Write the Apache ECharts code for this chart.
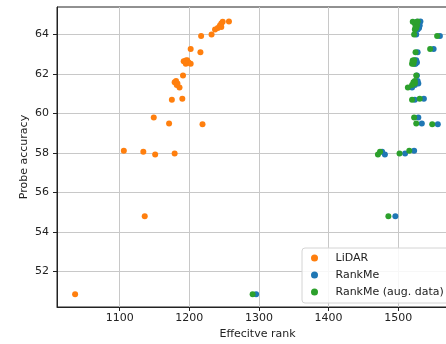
<!DOCTYPE html>
<html>
<head>
<meta charset="utf-8">
<script src="https://cdn.jsdelivr.net/npm/echarts@6/dist/echarts.min.js"></script>
<style>
  html, body { margin: 0; padding: 0; background: #fff; }
  #chart { width: 446px; height: 344px; }
</style>
</head>
<body>
<div id="chart"></div>
<script>
// values: [effective rank, probe accuracy]
var lidar = [
    [1036, 50.85], [1136, 54.8], [1106, 58.12], [1134, 58.07], [1151, 57.93], [1179, 57.98],
    [1149, 59.8], [1171, 59.5], [1219, 59.46], [1175, 60.7], [1190, 60.75], [1191, 61.92],
    [1179, 61.58], [1181, 61.65], [1183, 61.52], [1182, 61.44], [1186, 61.32], [1192, 62.64],
    [1195, 62.52], [1197, 62.7], [1199, 62.58], [1202, 62.52], [1195, 62.68], [1202, 63.27],
    [1216, 63.1], [1217, 63.92], [1232, 64.0], [1237, 64.25], [1241, 64.33], [1244, 64.45],
    [1246, 64.55], [1248, 64.64], [1246, 64.38], [1257, 64.65]
];
var rankme = [
    [1296, 50.85], [1496, 54.8], [1523, 58.12], [1477, 58.07], [1481, 57.93], [1510, 57.98],
    [1529, 59.8], [1534, 59.5], [1557, 59.46], [1524, 60.7], [1537, 60.75], [1527, 61.92],
    [1526, 61.58], [1528, 61.65], [1529, 61.52], [1524, 61.44], [1520, 61.32], [1525, 62.64],
    [1524, 62.52], [1526, 62.7], [1527, 62.58], [1525, 62.52], [1524, 62.68], [1551, 63.27],
    [1528, 63.1], [1560, 63.92], [1526, 64.0], [1528, 64.25], [1530, 64.33], [1531, 64.45],
    [1529, 64.55], [1527, 64.64], [1530, 64.38], [1532, 64.65]
];
var rankmeAug = [
    [1291, 50.85], [1486, 54.8], [1516, 58.12], [1474, 58.07], [1471, 57.93], [1502, 57.98],
    [1523, 59.8], [1526, 59.5], [1549, 59.46], [1520, 60.7], [1531, 60.75], [1526, 61.92],
    [1522, 61.58], [1524, 61.65], [1524, 61.52], [1520, 61.44], [1514, 61.32], [1521, 62.64],
    [1520, 62.52], [1523, 62.7], [1522, 62.58], [1522, 62.52], [1521, 62.68], [1546, 63.27],
    [1525, 63.1], [1556, 63.92], [1523, 64.0], [1524, 64.25], [1526, 64.33], [1527, 64.45],
    [1524, 64.55], [1521, 64.64], [1525, 64.38], [1528, 64.65]
];
var xTicks = [1100, 1200, 1300, 1400, 1500];
var yTicks = [52, 54, 56, 58, 60, 62, 64];

var font = 'DejaVu Sans';
var chart = echarts.init(document.getElementById('chart'), null, { renderer: 'canvas' });

function axisCommon(ticks) {
    return {
        axisLine: { show: true, lineStyle: { color: '#222', width: 1 } },
        axisTick: { show: true, customValues: ticks, length: 4, lineStyle: { color: '#222' } },
        axisLabel: {
            customValues: ticks, color: '#222', fontFamily: font, fontSize: 11,
            formatter: function (v) { return String(v); }
        },
        splitLine: { show: true, lineStyle: { color: '#c8c8c8', width: 1 } },
        nameTextStyle: { color: '#222', fontFamily: font, fontSize: 11 }
    };
}

var xAxis = axisCommon(xTicks);
xAxis.type = 'value';
xAxis.min = 1010;
xAxis.max = 1586;
xAxis.name = 'Effecitve rank';
xAxis.nameLocation = 'middle';
xAxis.nameGap = 21;
xAxis.axisLabel.margin = 6;

var yAxis = axisCommon(yTicks);
yAxis.type = 'value';
yAxis.min = 50.21;
yAxis.max = 65.39;
yAxis.name = 'Probe accuracy';
yAxis.nameLocation = 'middle';
yAxis.nameGap = 27;
yAxis.nameMoveOverlap = false;
yAxis.axisLabel.margin = 8;

var option = {
    animation: false,
    backgroundColor: '#fff',
    grid: {
        left: 57, top: 7, width: 401, height: 300,
        outerBoundsMode: 'none',
        show: true, borderColor: '#222', borderWidth: 1, backgroundColor: 'transparent'
    },
    legend: {
        orient: 'vertical',
        left: 302, top: 248,
        padding: [3, 40, 4, 9],
        itemGap: 3,
        itemWidth: 14, itemHeight: 7,
        icon: 'circle',
        backgroundColor: 'rgba(255,255,255,0.85)',
        borderColor: '#d4d4d4', borderWidth: 1, borderRadius: 3,
        textStyle: { color: '#222', fontFamily: font, fontSize: 11, lineHeight: 14, padding: [0, 0, 0, 9] },
        data: ['LiDAR', 'RankMe', 'RankMe (aug. data)']
    },
    xAxis: xAxis,
    yAxis: yAxis,
    series: [
        { name: 'LiDAR', type: 'scatter', data: lidar, symbolSize: 6, itemStyle: { color: '#ff7f0e', opacity: 1 } },
        { name: 'RankMe', type: 'scatter', data: rankme, symbolSize: 6, itemStyle: { color: '#1f77b4', opacity: 1 } },
        { name: 'RankMe (aug. data)', type: 'scatter', data: rankmeAug, symbolSize: 6, itemStyle: { color: '#2ca02c', opacity: 1 } }
    ]
};
chart.setOption(option);
</script>
</body>
</html>
